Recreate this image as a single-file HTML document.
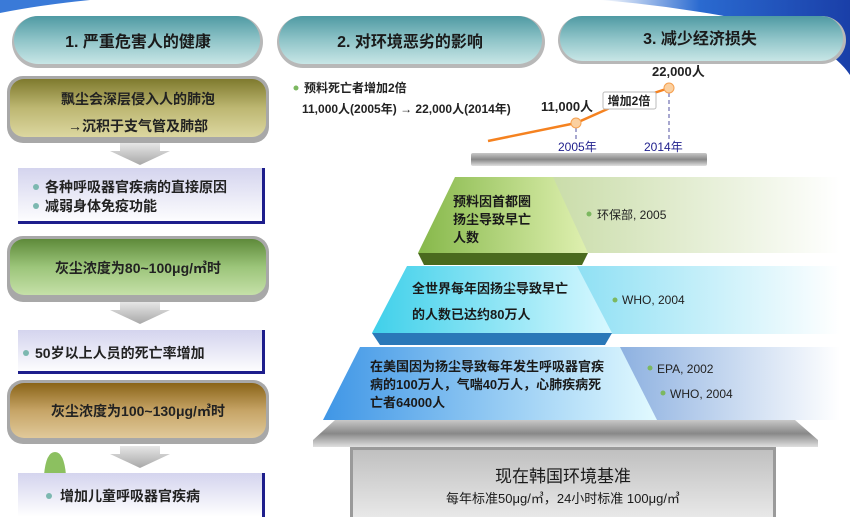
<!DOCTYPE html>
<html><head><meta charset="utf-8"><style>
body{margin:0;width:850px;height:517px;overflow:hidden;background:#fff;font-family:"Liberation Sans","Noto Sans CJK SC",sans-serif}
svg text{font-family:"Liberation Sans","Noto Sans CJK SC",sans-serif}
</style></head><body>
<svg width="850" height="517" viewBox="0 0 850 517" xmlns="http://www.w3.org/2000/svg">
<defs>
<linearGradient id="pill" x1="0" y1="0" x2="0" y2="1"><stop offset="0" stop-color="#4f9aa3"/><stop offset="0.5" stop-color="#8fc4c8"/><stop offset="1" stop-color="#c8e6e6"/></linearGradient>
<linearGradient id="olive" x1="0" y1="0" x2="0" y2="1"><stop offset="0" stop-color="#7f7a2e"/><stop offset="0.5" stop-color="#bdb772"/><stop offset="1" stop-color="#dcd7a0"/></linearGradient>
<linearGradient id="green" x1="0" y1="0" x2="0" y2="1"><stop offset="0" stop-color="#5e8a3a"/><stop offset="0.5" stop-color="#9cc57a"/><stop offset="1" stop-color="#c5e0a8"/></linearGradient>
<linearGradient id="brown" x1="0" y1="0" x2="0" y2="1"><stop offset="0" stop-color="#8a6418"/><stop offset="0.5" stop-color="#c6a466"/><stop offset="1" stop-color="#e0c99a"/></linearGradient>
<linearGradient id="lav" x1="0" y1="0" x2="0" y2="1"><stop offset="0" stop-color="#d4d4ee"/><stop offset="1" stop-color="#ffffff"/></linearGradient>
<linearGradient id="arr" x1="0" y1="0" x2="0" y2="1"><stop offset="0" stop-color="#e6e6e6"/><stop offset="1" stop-color="#a8a8a8"/></linearGradient>
<linearGradient id="bar" x1="0" y1="0" x2="0" y2="1"><stop offset="0" stop-color="#c8c8c8"/><stop offset="0.5" stop-color="#888"/><stop offset="1" stop-color="#e0e0e0"/></linearGradient>
<linearGradient id="t1" x1="0" y1="0" x2="1" y2="0"><stop offset="0" stop-color="#86b84a"/><stop offset="1" stop-color="#dff0b0"/></linearGradient>
<linearGradient id="b1" x1="0" y1="0" x2="1" y2="0"><stop offset="0" stop-color="#c9dca8"/><stop offset="1" stop-color="#ffffff"/></linearGradient>
<linearGradient id="t2" x1="0" y1="0" x2="1" y2="0"><stop offset="0" stop-color="#3fd0ea"/><stop offset="1" stop-color="#d8f8ff"/></linearGradient>
<linearGradient id="b2" x1="0" y1="0" x2="1" y2="0"><stop offset="0" stop-color="#8fe0f4"/><stop offset="1" stop-color="#ffffff"/></linearGradient>
<linearGradient id="t3" x1="0" y1="0" x2="1" y2="0"><stop offset="0" stop-color="#3f96e6"/><stop offset="1" stop-color="#e2faff"/></linearGradient>
<linearGradient id="b3" x1="0" y1="0" x2="1" y2="0"><stop offset="0" stop-color="#8cb0e0"/><stop offset="1" stop-color="#ffffff"/></linearGradient>
<linearGradient id="base" x1="0" y1="0" x2="0" y2="1"><stop offset="0" stop-color="#c0c0c0"/><stop offset="1" stop-color="#e8e8e8"/></linearGradient>
<linearGradient id="swoosh" x1="0" y1="0" x2="1" y2="0"><stop offset="0" stop-color="#ffffff"/><stop offset="0.4" stop-color="#2a6ad0"/><stop offset="1" stop-color="#1a3fa8"/></linearGradient>
</defs>
<path d="M0 0 H90 Q40 5 0 13 Z" fill="#3a7ad8"/>
<path d="M600 0 H850 V75 Q820 30 700 12 Q650 4 600 0Z" fill="url(#swoosh)"/>
<g>
<rect x="12" y="16" width="251" height="52" rx="26" fill="#b8b8b8"/><rect x="14" y="16" width="246" height="48" rx="24" fill="url(#pill)"/>
<text x="138" y="47" text-anchor="middle" font-size="16" font-weight="bold" fill="#1a1a1a">1. 严重危害人的健康</text>
<rect x="277" y="16" width="268" height="52" rx="26" fill="#b8b8b8"/><rect x="279" y="16" width="263" height="48" rx="24" fill="url(#pill)"/>
<text x="410" y="47" text-anchor="middle" font-size="16" font-weight="bold" fill="#1a1a1a">2. 对环境恶劣的影响</text>
<rect x="558" y="16" width="288" height="48" rx="24" fill="#b8b8b8"/><rect x="560" y="16" width="283" height="45" rx="22" fill="url(#pill)"/>
<text x="700" y="44" text-anchor="middle" font-size="16" font-weight="bold" fill="#1a1a1a">3. 减少经济损失</text>
</g>
<rect x="7" y="76" width="262" height="67" rx="16" fill="#a8a8a8"/><rect x="10" y="79" width="256" height="58" rx="14" fill="url(#olive)"/>
<text x="138" y="104" text-anchor="middle" font-size="14" font-weight="bold" fill="#222">飘尘会深层侵入人的肺泡</text>
<text x="138" y="131" text-anchor="middle" font-size="14" font-weight="bold" fill="#222">→沉积于支气管及肺部</text>
<path d="M120 143 H160 V151 H170 L140 165 L110 151 H120Z" fill="url(#arr)"/>
<rect x="18" y="168" width="247" height="56" fill="url(#lav)"/><rect x="262" y="168" width="3" height="56" fill="#1e1e8c"/><rect x="18" y="221" width="247" height="3" fill="#1e1e8c"/>
<circle cx="36" cy="187" r="3" fill="#7cb8b0"/><text x="45" y="192" font-size="14" font-weight="bold" fill="#222">各种呼吸器官疾病的直接原因</text>
<circle cx="36" cy="206" r="3" fill="#7cb8b0"/><text x="45" y="211" font-size="14" font-weight="bold" fill="#222">减弱身体免疫功能</text>
<rect x="7" y="236" width="262" height="66" rx="16" fill="#a8a8a8"/><rect x="10" y="239" width="256" height="56" rx="14" fill="url(#green)"/>
<text x="138" y="273" text-anchor="middle" font-size="14" font-weight="bold" fill="#222">灰尘浓度为80~100μg/㎥时</text>
<path d="M120 302 H160 V310 H170 L140 324 L110 310 H120Z" fill="url(#arr)"/>
<rect x="18" y="330" width="247" height="44" fill="url(#lav)"/><rect x="262" y="330" width="3" height="44" fill="#1e1e8c"/><rect x="18" y="371" width="247" height="3" fill="#1e1e8c"/>
<circle cx="26" cy="353" r="3" fill="#7cb8b0"/><text x="35" y="358" font-size="14" font-weight="bold" fill="#222">50岁以上人员的死亡率增加</text>
<rect x="7" y="380" width="262" height="64" rx="16" fill="#a8a8a8"/><rect x="10" y="383" width="256" height="55" rx="14" fill="url(#brown)"/>
<text x="138" y="416" text-anchor="middle" font-size="14" font-weight="bold" fill="#222">灰尘浓度为100~130μg/㎥时</text>
<path d="M120 446 H160 V454 H170 L140 468 L110 454 H120Z" fill="url(#arr)"/>
<path d="M44 475 Q46 452 55 452 Q64 452 66 475Z" fill="#8cc060"/>
<rect x="18" y="473" width="247" height="44" fill="url(#lav)"/><rect x="262" y="473" width="3" height="44" fill="#1e1e8c"/>
<circle cx="49" cy="496" r="3" fill="#7cb8b0"/><text x="60" y="501" font-size="14" font-weight="bold" fill="#222">增加儿童呼吸器官疾病</text>
<circle cx="296" cy="88" r="2.5" fill="#7cb860"/>
<text x="304" y="92" font-size="12" font-weight="bold" fill="#222">预料死亡者增加2倍</text>
<text x="302" y="113" font-size="12" font-weight="bold" fill="#222">11,000人(2005年) → 22,000人(2014年)</text>
<rect x="471" y="153" width="236" height="13" rx="2" fill="url(#bar)"/>
<polyline points="488,141 576,123 612,107 669,88" fill="none" stroke="#f58220" stroke-width="2.5"/>
<line x1="576" y1="128" x2="576" y2="140" stroke="#5050a0" stroke-dasharray="4,3"/>
<line x1="669" y1="93" x2="669" y2="140" stroke="#5050a0" stroke-dasharray="4,3"/>
<circle cx="576" cy="123" r="5" fill="#fbd0a0" stroke="#f5a050"/><circle cx="669" cy="88" r="5" fill="#fbd0a0" stroke="#f5a050"/>
<rect x="603" y="92" width="53" height="17" rx="2" fill="#fff" stroke="#bbb"/>
<text x="629" y="105" text-anchor="middle" font-size="12" font-weight="bold" fill="#222">增加2倍</text>
<text x="541" y="111" font-size="13" font-weight="bold" fill="#222">11,000人</text>
<text x="652" y="76" font-size="13" font-weight="bold" fill="#222">22,000人</text>
<text x="558" y="151" font-size="12" fill="#1e1e8c">2005年</text>
<text x="644" y="151" font-size="12" fill="#1e1e8c">2014年</text>
<rect x="548" y="177" width="292" height="76" fill="url(#b1)"/>
<rect x="577" y="266" width="263" height="68" fill="url(#b2)"/>
<rect x="618" y="347" width="222" height="73" fill="url(#b3)"/>
<path d="M418 253 H588 L582 265 H424Z" fill="#4a6a1e"/>
<path d="M455 177 H553 L588 253 H418Z" fill="url(#t1)"/>
<text font-size="13" font-weight="bold" fill="#1a1a1a"><tspan x="453" y="206">预料因首都圈</tspan><tspan x="453" y="224">扬尘导致早亡</tspan><tspan x="453" y="242">人数</tspan></text>
<circle cx="589" cy="214" r="2.5" fill="#7cb860"/><text x="597" y="219" font-size="12" fill="#222">环保部, 2005</text>
<path d="M372 333 H612 L605 345 H380Z" fill="#2a78b8"/>
<path d="M407 266 H577 L612 333 H372Z" fill="url(#t2)"/>
<text x="412" y="293" font-size="13" font-weight="bold" fill="#1a1a1a">全世界每年因扬尘导致早亡</text>
<text x="412" y="319" font-size="13" font-weight="bold" fill="#1a1a1a">的人数已达约80万人</text>
<circle cx="615" cy="300" r="2.5" fill="#7cb860"/><text x="622" y="304" font-size="12" fill="#222">WHO, 2004</text>
<path d="M360 347 H620 L657 420 H323Z" fill="url(#t3)"/>
<text font-size="13" font-weight="bold" fill="#1a1a1a"><tspan x="370" y="371">在美国因为扬尘导致每年发生呼吸器官疾</tspan><tspan x="370" y="389">病的100万人，气喘40万人，心肺疾病死</tspan><tspan x="370" y="407">亡者64000人</tspan></text>
<circle cx="650" cy="368" r="2.5" fill="#7cb860"/><text x="657" y="373" font-size="12" fill="#222">EPA, 2002</text>
<circle cx="663" cy="393" r="2.5" fill="#7cb860"/><text x="670" y="398" font-size="12" fill="#222">WHO, 2004</text>
<path d="M335 420 H795 L818 440 V447 H313 V440Z" fill="url(#bar)"/>
<rect x="350" y="447" width="426" height="70" fill="#9a9a9a"/>
<rect x="353" y="450" width="420" height="67" fill="url(#base)"/>
<text x="563" y="482" text-anchor="middle" font-size="17" fill="#1a1a1a" font-family="Liberation Serif,Noto Serif CJK SC,serif">现在韩国环境基准</text>
<text x="563" y="503" text-anchor="middle" font-size="13" fill="#1a1a1a">每年标准50μg/㎥，24小时标准 100μg/㎥</text>
</svg>
</body></html>
